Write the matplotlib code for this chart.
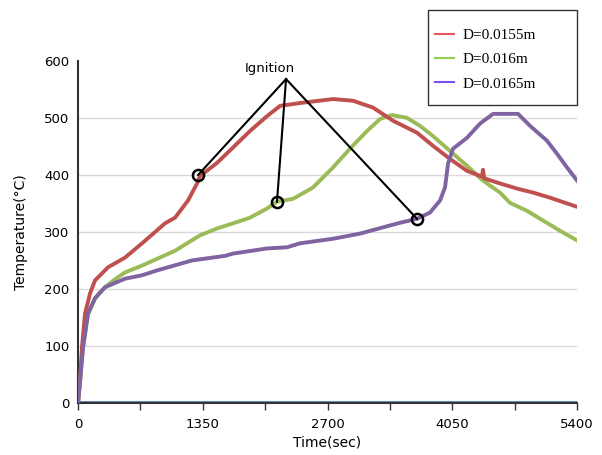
import numpy as np
import matplotlib.pyplot as plt
from matplotlib.lines import Line2D
from matplotlib.patches import Rectangle

# values (time in sec, temperature in C)
t_red = [0, 22, 43, 76, 130, 184, 325, 509, 693, 941, 1050, 1190, 1288, 1320,
         1504, 1677, 1861, 2045, 2186, 2402, 2759, 2976, 3192, 3408, 3668,
         3841, 4025, 4209, 4370, 4382, 4395, 4566, 4750, 4923, 5107, 5400]
T_red = [0, 40, 98, 157, 192, 215, 238, 255, 280, 315, 325, 355, 385, 398,
         421, 448, 477, 503, 521, 526, 533, 530, 518, 495, 474,
         451, 428, 407, 397, 409, 394, 385, 376, 369, 360, 344]

t_green = [0, 25, 54, 108, 184, 292, 400, 509, 693, 1050, 1320, 1504, 1677,
           1861, 2045, 2153, 2327, 2543, 2759, 2943, 3127, 3268, 3397, 3560,
           3700, 3841, 4025, 4209, 4382, 4566, 4674, 4858, 5031, 5215, 5400]
T_green = [0, 42, 96, 155, 183, 203, 217, 229, 241, 267, 294, 306, 315,
           325, 341, 353, 358, 378, 413, 446, 477, 498, 505, 500,
           486, 468, 442, 416, 390, 369, 351, 337, 320, 302, 285]

t_purple = [0, 25, 54, 108, 184, 292, 509, 693, 866, 1234, 1591, 1677, 2045,
            2261, 2402, 2759, 3051, 3300, 3484, 3668, 3809, 3917, 3971, 4004,
            4058, 4209, 4350, 4491, 4642, 4761, 4891, 5074, 5183, 5291, 5400]
T_purple = [0, 45, 98, 157, 184, 203, 218, 224, 233, 250, 258, 262, 271,
            273, 280, 288, 297, 308, 316, 323, 334, 355, 378, 420,
            446, 465, 490, 507, 507, 507, 486, 460, 437, 413, 390]

t_blue = [0, 5400]
T_blue = [2, 2]

labels = ['D=0.0155m', 'D=0.016m', 'D=0.0165m']
line_colors = ['#c0504d', '#9bbb59', '#8064a2']
legend_colors = ['#e8585a', '#8fd14f', '#7b4ff0']

# ignition points and the label apex
ign_t = [1300, 2153, 3668]
ign_T = [400, 353, 323]
apex = (2251, 568)

fig = plt.figure(figsize=(6.02, 4.55), dpi=100)
ax = fig.add_axes([0.1296, 0.1143, 0.829, 0.752])

ax.plot(t_blue, T_blue, color='#4f81bd', lw=2, zorder=2)
ax.plot(t_green, T_green, color=line_colors[1], lw=2.8, zorder=3)
ax.plot(t_red, T_red, color=line_colors[0], lw=2.8, zorder=3)
ax.plot(t_purple, T_purple, color=line_colors[2], lw=2.8, zorder=3)

for x, y in zip(ign_t, ign_T):
    ax.plot([apex[0], x], [apex[1], y], color='black', lw=1.5, zorder=4,
            clip_on=False)
ax.plot(ign_t, ign_T, 'o', ms=8, mfc='none', mec='black', mew=1.8, zorder=5)
ax.text(2077, 587, 'Ignition', ha='center', va='center', fontsize=9.5,
        clip_on=False)

ax.set_xlim(0, 5400)
ax.set_ylim(0, 600)
ax.set_xticks([0, 1350, 2700, 4050, 5400])
ax.set_xticks([675, 2025, 3375, 4725], minor=True)
ax.set_yticks([0, 100, 200, 300, 400, 500, 600])
ax.tick_params(axis='x', which='both', direction='out', length=5, width=1,
               color='#333333', labelsize=9.5, pad=6)
ax.tick_params(axis='y', length=0, labelsize=9.5, pad=6)

for y in [100, 200, 300, 400, 500]:
    ax.axhline(y, color='#d9d9d9', lw=1, zorder=1)

for s in ['top', 'right']:
    ax.spines[s].set_visible(False)
for s in ['left', 'bottom']:
    ax.spines[s].set_color('#333333')
    ax.spines[s].set_linewidth(1.5)

ax.set_xlabel('Time(sec)', fontsize=10, labelpad=3)
ax.set_ylabel('Temperature(°C)', fontsize=10, labelpad=12)

# legend box
fig.patches.append(Rectangle((0.711, 0.769), 0.2475, 0.209,
                             transform=fig.transFigure, fill=True,
                             facecolor='white', edgecolor='#333333', lw=1,
                             zorder=10))
handles = [Line2D([], [], color=c, lw=1.5) for c in legend_colors]
leg = fig.legend(handles, labels, loc='upper left',
                 bbox_to_anchor=(0.699, 0.968), frameon=False,
                 prop={'family': 'Liberation Serif', 'size': 11},
                 handlelength=1.3, handletextpad=0.5, labelspacing=0.7)
leg.set_zorder(11)

fig.savefig('out.png', dpi=100)
